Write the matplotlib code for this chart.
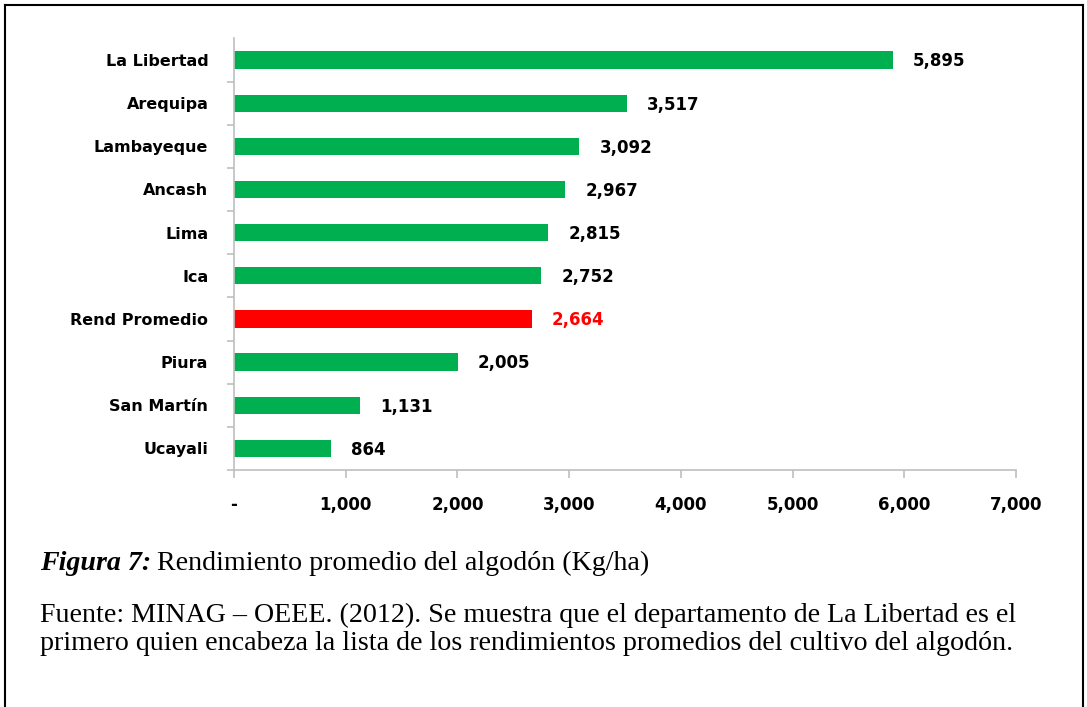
import matplotlib.pyplot as plt
from matplotlib.lines import Line2D
from matplotlib.ticker import FuncFormatter

# Datos
departamentos = ['La Libertad', 'Arequipa', 'Lambayeque', 'Ancash', 'Lima', 'Ica',
                 'Rend Promedio', 'Piura', 'San Martín', 'Ucayali']
rendimiento = [5895, 3517, 3092, 2967, 2815, 2752, 2664, 2005, 1131, 864]
colores = ['#00B050'] * 6 + ['#FF0000'] + ['#00B050'] * 3
color_etiqueta = ['black'] * 6 + ['#FF0000'] + ['black'] * 3

W, H = 1087, 707
fig = plt.figure(figsize=(W / 100, H / 100), dpi=100)
ax = fig.add_axes([234 / W, 1 - 470 / H, (1016 - 234) / W, (470 - 38.4) / H])

y = list(range(len(departamentos)))
ax.barh(y, rendimiento, height=0.4, color=colores)
ax.set_ylim(len(departamentos) - 0.5, -0.5)
ax.set_xlim(0, 7000)

# Etiquetas de valor
for yi, v, c in zip(y, rendimiento, color_etiqueta):
    ax.annotate(f'{v:,}', xy=(v, yi), xytext=(14.4, -1), textcoords='offset points',
                va='center', ha='left', fontsize=12, fontweight='bold', color=c)

# Ejes
for s in ['top', 'right']:
    ax.spines[s].set_visible(False)
for s in ['left', 'bottom']:
    ax.spines[s].set_color('#BFBFBF')
    ax.spines[s].set_linewidth(1.2)

ax.set_yticks(y)
ax.set_yticklabels(departamentos, fontsize=11.5, fontweight='bold')
ax.set_yticks([i + 0.5 for i in y], minor=True)
ax.tick_params(axis='y', which='major', length=0, pad=18.5)
ax.tick_params(axis='y', which='minor', length=5, color='#BFBFBF', width=1.2)

ax.set_xticks(range(0, 7001, 1000))
ax.xaxis.set_major_formatter(FuncFormatter(lambda v, p: '-' if v == 0 else f'{int(v):,}'))
ax.tick_params(axis='x', length=6, color='#BFBFBF', width=1.2, pad=13, labelsize=12)
for t in ax.get_xticklabels():
    t.set_fontweight('bold')

# Leyenda de figura
serif = 'Liberation Serif'
fs = 20.2
t1 = fig.text(40 / W, 1 - 563 / H, 'Figura 7:', fontsize=fs, family=serif,
              fontweight='bold', fontstyle='italic', va='center')
r = fig.canvas.get_renderer()
x_end = t1.get_window_extent(r).x1
fig.text((x_end + 6) / W, 1 - 563 / H, 'Rendimiento promedio del algodón (Kg/ha)',
         fontsize=fs, family=serif, va='center')
fig.text(40 / W, 1 - 615 / H,
         'Fuente: MINAG – OEEE. (2012). Se muestra que el departamento de La Libertad es el',
         fontsize=fs, family=serif, va='center')
fig.text(40 / W, 1 - 643 / H,
         'primero quien encabeza la lista de los rendimientos promedios del cultivo del algodón.',
         fontsize=fs, family=serif, va='center')

# Marco
fig.add_artist(Line2D([5 / W, 5 / W], [0, 1 - 5 / H], color='black', lw=1.5))
fig.add_artist(Line2D([5 / W, 1083 / W], [1 - 5 / H, 1 - 5 / H], color='black', lw=1.5))
fig.add_artist(Line2D([1083 / W, 1083 / W], [0, 1 - 5 / H], color='black', lw=1.5))

fig.savefig('out.png', dpi=100)
